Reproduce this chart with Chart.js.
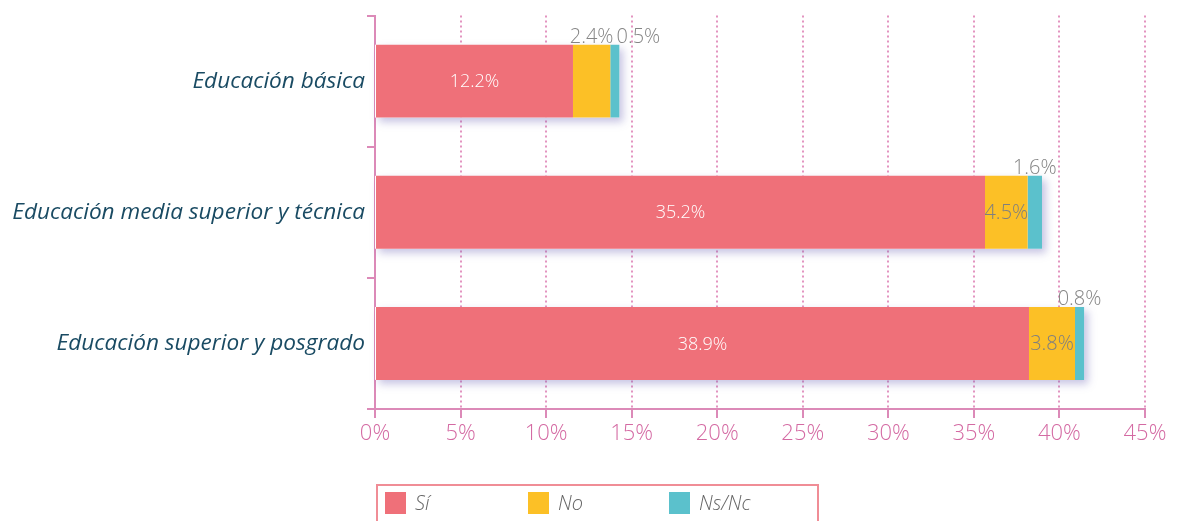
<!DOCTYPE html>
<html>
<head>
<meta charset="utf-8">
<script src="https://cdn.jsdelivr.net/npm/chart.js@4"></script>
<style>
    body { margin: 0; background: #fff; }
    #wrap { position: relative; width: 1179px; height: 521px; overflow: hidden; }
    #legend {
        position: absolute; left: 376px; top: 484px; width: 443px; height: 60px;
        border: 2px solid #f08d96; box-sizing: border-box;
        font-family: 'Open Sans'; font-style: italic; font-weight: 300; font-size: 20px; color: #666;
    }
    .swatch { position: absolute; top: 6px; width: 21px; height: 22px; }
    .name { position: absolute; top: 3px; line-height: 28px; }
</style>
</head>
<body>
<div id="wrap">
    <canvas id="chart" width="1179" height="521"></canvas>
    <div id="legend"></div>
</div>
<script>
const categories = ['Educación básica', 'Educación media superior y técnica', 'Educación superior y posgrado'];
const seriesNames = ['Sí', 'No', 'Ns/Nc'];
const seriesColors = ['#ef7079', '#fcc026', '#5bc1cc'];

// bar lengths as drawn in the picture
const siValues = [11.57, 35.65, 38.22];
const noValues = [2.18, 2.49, 2.69];
const nsValues = [0.53, 0.84, 0.53];

// the printed labels
const siLabels = ['12.2%', '35.2%', '38.9%'];
const noLabels = ['2.4%', '4.5%', '3.8%'];
const nsLabels = ['0.5%', '1.6%', '0.8%'];

const xMax = 45;
const xStep = 5;

const pink = '#dc8ab8';
const labelSets = [siLabels, noLabels, nsLabels];

const barShadow = {
    id: 'barShadow',
    beforeDatasetsDraw(chart) {
        const ctx = chart.ctx;
        const x = chart.scales.x;
        const meta = chart.getDatasetMeta(0);
        ctx.save();
        ctx.shadowColor = 'rgba(95, 85, 175, 0.35)';
        ctx.shadowBlur = 8;
        ctx.shadowOffsetX = 4;
        ctx.shadowOffsetY = 4;
        ctx.fillStyle = '#ffffff';
        meta.data.forEach((bar, i) => {
            let total = siValues[i] + noValues[i] + nsValues[i];
            let left = x.getPixelForValue(0);
            let right = x.getPixelForValue(total);
            ctx.fillRect(left, bar.y - bar.height / 2, right - left, bar.height);
        });
        ctx.restore();
    }
};

const barLabels = {
    id: 'barLabels',
    afterDatasetsDraw(chart) {
        const ctx = chart.ctx;
        ctx.save();
        ctx.textAlign = 'center';
        categories.forEach((cat, i) => {
            let lastRight = -Infinity;
            labelSets.forEach((labels, d) => {
                let bar = chart.getDatasetMeta(d).data[i];
                let text = labels[i];
                ctx.font = d === 0 ? '300 18px "Open Sans"' : '300 20px "Open Sans"';
                let w = ctx.measureText(text).width;
                let segW = bar.x - bar.base;
                let cx = (bar.x + bar.base) / 2;
                if (w <= segW + 2) {
                    ctx.fillStyle = d === 0 ? '#ffffff' : '#7f7f7f';
                    ctx.textBaseline = 'middle';
                    ctx.fillText(text, cx, bar.y + 1);
                } else {
                    cx = Math.max(cx, lastRight + 3 + w / 2);
                    ctx.fillStyle = '#858585';
                    ctx.textBaseline = 'alphabetic';
                    ctx.fillText(text, cx, bar.y - bar.height / 2 - 2);
                    lastRight = cx + w / 2;
                }
            });
        });
        ctx.restore();
    }
};

function buildLegend() {
    let legend = document.getElementById('legend');
    let offsets = [7, 150, 291];
    seriesNames.forEach((name, i) => {
        let sw = document.createElement('div');
        sw.className = 'swatch';
        sw.style.left = offsets[i] + 'px';
        sw.style.background = seriesColors[i];
        legend.appendChild(sw);
        let label = document.createElement('div');
        label.className = 'name';
        label.style.left = (offsets[i] + 30) + 'px';
        label.innerText = name;
        legend.appendChild(label);
    });
}

new Chart(document.getElementById('chart'), {
    type: 'bar',
    data: {
        labels: categories,
        datasets: [siValues, noValues, nsValues].map((values, i) => ({
            label: seriesNames[i],
            data: values,
            backgroundColor: seriesColors[i],
            borderWidth: 0,
            categoryPercentage: 1,
            barPercentage: 0.556
        }))
    },
    options: {
        indexAxis: 'y',
        responsive: false,
        animation: false,
        layout: { padding: { top: 15, right: 34, bottom: 0, left: 0 } },
        plugins: {
            legend: { display: false },
            tooltip: { enabled: false }
        },
        scales: {
            x: {
                stacked: true,
                min: 0,
                max: xMax,
                ticks: {
                    stepSize: xStep,
                    color: '#d46aa3',
                    padding: 3,
                    font: { family: 'Open Sans', weight: '300', size: 22 },
                    callback: v => v + '%'
                },
                grid: { color: '#e394c0', lineWidth: 2, tickLength: 9, tickColor: pink, tickBorderDash: [] },
                border: { color: pink, width: 2, dash: [2, 3] },
                afterFit: scale => { scale.height = 112; }
            },
            y: {
                stacked: true,
                ticks: {
                    color: '#1a4b63',
                    padding: 2,
                    font: { family: 'Open Sans', style: 'italic', size: 22.6 }
                },
                grid: { drawOnChartArea: false, tickLength: 8, color: pink, lineWidth: 2 },
                border: { color: pink, width: 2 },
                afterFit: scale => { scale.width = 375; }
            }
        }
    },
    plugins: [barShadow, barLabels]
});

buildLegend();
</script>
</body>
</html>
